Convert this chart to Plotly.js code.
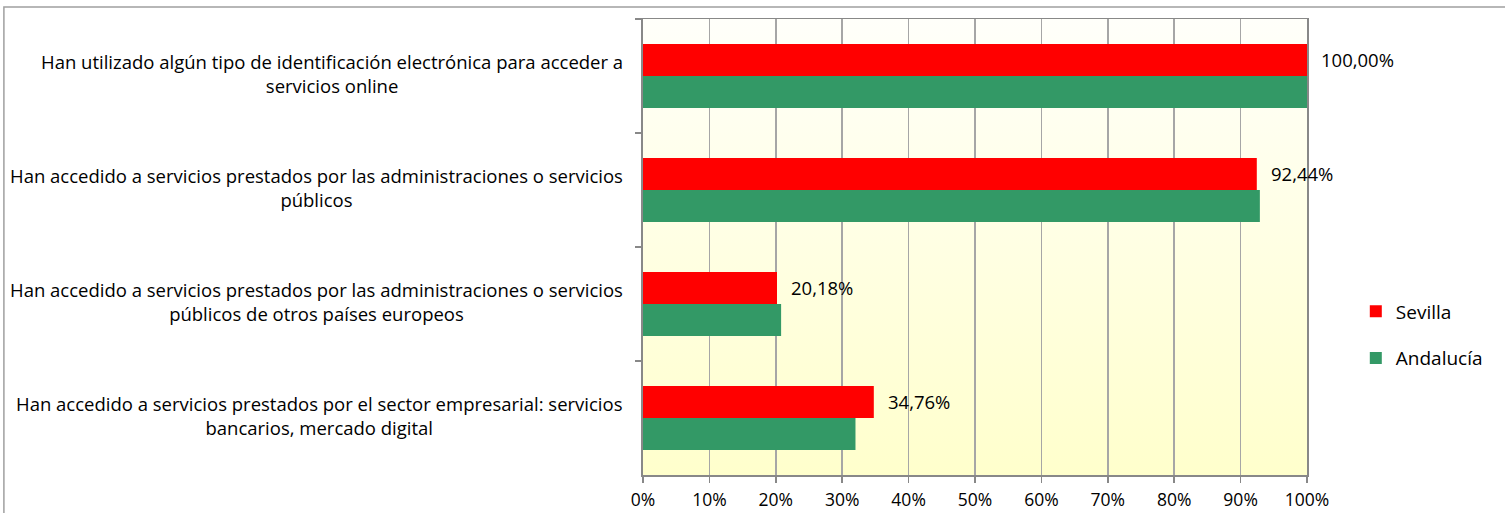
<!DOCTYPE html>
<html>
<head>
<meta charset="utf-8">
<script src="https://cdn.plot.ly/plotly-3.0.1.min.js"></script>
<style>
  html, body { margin: 0; padding: 0; background: #ffffff; overflow: hidden; }
  #chart { width: 1505px; height: 513px; }
</style>
</head>
<body>
<div id="chart"></div>
<script>
// ---- Data ----
const categories = [
  "Han utilizado algún tipo de identificación electrónica para acceder a<br>servicios online",
  "Han accedido a servicios prestados por las administraciones o servicios<br>públicos",
  "Han accedido a servicios prestados por las administraciones o servicios<br>públicos de otros países europeos",
  "Han accedido a servicios prestados por el sector empresarial: servicios<br>bancarios, mercado digital"
];
const seriesNames = ["Sevilla", "Andalucía"];
const sevilla = [100.00, 92.44, 20.18, 34.76];
const andalucia = [100.0, 92.9, 20.8, 32.0];
const xTicks = [0, 10, 20, 30, 40, 50, 60, 70, 80, 90, 100];

// ---- Styling ----
const FONT = "'Open Sans', 'Noto Sans', sans-serif";
const FS_TICK = 17.5;
const FS_LABEL = 18.5;
const FS_DATA = 18.5;
const FS_LEGEND = 19;
const RED = "#FF0000";
const GREEN = "#339966";
const GRID = "#A6A6A6";
const AXIS = "#888888";

const catIds = categories.map((c, i) => "c" + i);

const traces = [
  {
    type: "bar", orientation: "h", name: seriesNames[0],
    y: catIds, x: sevilla,
    marker: { color: RED, line: { width: 0 } },
    legendgroup: "g1", hoverinfo: "skip"
  },
  {
    type: "bar", orientation: "h", name: seriesNames[1],
    y: catIds, x: andalucia,
    marker: { color: GREEN, line: { width: 0 } },
    legendgroup: "g2", hoverinfo: "skip"
  }
];

const fmt = v => v.toFixed(2).replace(".", ",") + "%";

const annotations = [];
categories.forEach((c, i) => {
  annotations.push({
    xref: "paper", yref: "y", x: 0, y: catIds[i],
    xanchor: "right", yanchor: "middle", xshift: -18, yshift: 3,
    text: c, align: "center", showarrow: false,
    font: { family: FONT, size: FS_LABEL, color: "#000000" }
  });
});
sevilla.forEach((v, i) => {
  annotations.push({
    xref: "x", yref: "y", x: v, y: catIds[i],
    xanchor: "left", yanchor: "middle", xshift: 12, yshift: 17,
    text: fmt(v), showarrow: false,
    font: { family: FONT, size: FS_DATA, color: "#000000" }
  });
});

const bgSvg = "<svg xmlns='http://www.w3.org/2000/svg' width='100' height='100' preserveAspectRatio='none'>" +
  "<defs><linearGradient id='g' x1='0' y1='0' x2='0' y2='1'>" +
  "<stop offset='0' stop-color='#FFFFFA'/><stop offset='1' stop-color='#FFFFCC'/>" +
  "</linearGradient></defs><rect width='100' height='100' fill='url(#g)'/></svg>";
const bgUri = "data:image/svg+xml;charset=utf-8," + encodeURIComponent(bgSvg);

const layout = {
  width: 1505, height: 513,
  margin: { l: 643, r: 198, t: 19, b: 38, pad: 0 },
  paper_bgcolor: "#FFFFFF",
  plot_bgcolor: "rgba(0,0,0,0)",
  font: { family: FONT, size: FS_TICK, color: "#000000" },
  barmode: "group",
  bargap: 0.44,
  bargroupgap: 0,
  showlegend: true,
  legend: {
    x: 1.0735, xanchor: "left", y: 0.307, yanchor: "middle",
    traceorder: "grouped", tracegroupgap: 19,
    font: { family: FONT, size: FS_LEGEND, color: "#000000" },
    bgcolor: "rgba(0,0,0,0)", borderwidth: 0,
    itemclick: false, itemdoubleclick: false
  },
  xaxis: {
    range: [0, 100], tickvals: xTicks, ticktext: xTicks.map(t => t + "%"),
    showgrid: true, gridcolor: GRID, gridwidth: 1.5,
    showline: true, linecolor: AXIS, linewidth: 1.5, mirror: true,
    ticks: "outside", ticklen: 6, tickcolor: AXIS, tickwidth: 1.5,
    ticklabelstandoff: 2,
    zeroline: false, fixedrange: true,
    tickfont: { family: FONT, size: FS_TICK, color: "#000000" }
  },
  yaxis: {
    type: "category", autorange: "reversed",
    showticklabels: false, showgrid: false,
    tickson: "boundaries",
    showline: true, linecolor: AXIS, linewidth: 2, mirror: true,
    ticks: "outside", ticklen: 6, tickcolor: AXIS, tickwidth: 1.5,
    zeroline: false, fixedrange: true
  },
  images: [{
    source: bgUri, xref: "paper", yref: "paper",
    x: 0, y: 1, sizex: 1, sizey: 1, xanchor: "left", yanchor: "top",
    sizing: "stretch", layer: "below"
  }],
  shapes: [{
    type: "rect", xref: "paper", yref: "paper",
    x0: -0.9625, x1: 1.5, y0: -0.5, y1: 1.0265,
    line: { color: "#A0A0A0", width: 1.5 }, fillcolor: "rgba(0,0,0,0)",
    layer: "below"
  }],
  annotations: annotations
};

Plotly.newPlot("chart", traces, layout, { displayModeBar: false, staticPlot: true });
</script>
</body>
</html>
